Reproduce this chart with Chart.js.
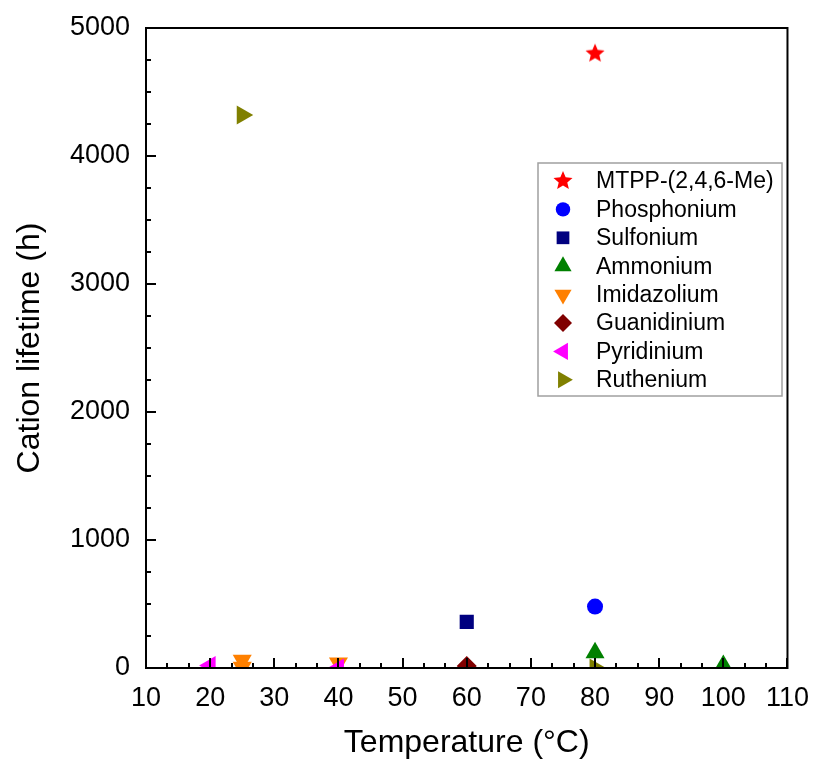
<!DOCTYPE html>
<html>
<head>
<meta charset="utf-8">
<script src="https://cdn.jsdelivr.net/npm/chart.js@4.4.1/dist/chart.umd.min.js"></script>
<style>
  html, body { margin: 0; padding: 0; background: #fff; }
  #wrap { position: relative; width: 815px; height: 759px; }
</style>
</head>
<body>
<div id="wrap"><canvas id="lifetimeChart" width="815" height="759"></canvas></div>
<script>
// ===================== Data =====================
const xTicks = [10, 20, 30, 40, 50, 60, 70, 80, 90, 100, 110];
const yTicks = [0, 1000, 2000, 3000, 4000, 5000];

const seriesNames = ['MTPP-(2,4,6-Me)', 'Phosphonium', 'Sulfonium', 'Ammonium',
  'Imidazolium', 'Guanidinium', 'Pyridinium', 'Ruthenium'];

const mtppTemp = [80];        const mtppLife = [4800];
const phosTemp = [80];        const phosLife = [480];
const sulfTemp = [60];        const sulfLife = [360];
const ammTemp = [80, 100];    const ammLife = [120, 20];
const imidTemp = [25, 25, 40]; const imidLife = [60, 5, 40];
const guanTemp = [60];        const guanLife = [15];
const pyrTemp = [20, 40];     const pyrLife = [20, 0];
const ruthTemp = [25, 80];    const ruthLife = [4320, 0];

// ===================== Styles =====================
const FONT = '"Liberation Sans", Arial, sans-serif';
const colors = ['#ff0000', '#0000ff', '#000080', '#008000', '#ff8000', '#800000', '#ff00ff', '#808000'];

function makeStar(color, r) {
  const c = document.createElement('canvas');
  const s = Math.ceil(r * 2 + 2);
  c.width = s; c.height = s;
  const g = c.getContext('2d');
  g.fillStyle = color;
  g.beginPath();
  for (let i = 0; i < 10; i++) {
    const rad = i % 2 ? r * 0.45 : r;
    const a = -Math.PI / 2 + i * Math.PI / 5;
    g.lineTo(s / 2 + rad * Math.cos(a), s / 2 + rad * Math.sin(a));
  }
  g.closePath();
  g.fill();
  return c;
}

const markers = [
  { pointStyle: makeStar(colors[0], 10), radius: 10, rotation: 0 },
  { pointStyle: 'circle', radius: 8, rotation: 0 },
  { pointStyle: 'rect', radius: 10, rotation: 0 },
  { pointStyle: 'triangle', radius: 11, rotation: 0 },
  { pointStyle: 'triangle', radius: 11, rotation: 180 },
  { pointStyle: 'rectRot', radius: 10, rotation: 0 },
  { pointStyle: 'triangle', radius: 11, rotation: 270 },
  { pointStyle: 'triangle', radius: 11, rotation: 90 }
];

function toPoints(xs, ys) {
  return xs.map(function (x, i) { return { x: x, y: ys[i] }; });
}

const seriesData = [
  toPoints(mtppTemp, mtppLife),
  toPoints(phosTemp, phosLife),
  toPoints(sulfTemp, sulfLife),
  toPoints(ammTemp, ammLife),
  toPoints(imidTemp, imidLife),
  toPoints(guanTemp, guanLife),
  toPoints(pyrTemp, pyrLife),
  toPoints(ruthTemp, ruthLife)
];

const datasets = seriesNames.map(function (name, i) {
  return {
    label: name,
    data: seriesData[i],
    backgroundColor: colors[i],
    borderColor: colors[i],
    borderWidth: 0,
    pointStyle: markers[i].pointStyle,
    pointRadius: markers[i].radius,
    pointHoverRadius: markers[i].radius,
    pointRotation: markers[i].rotation,
    clip: 0,
    order: name === 'Pyridinium' ? -1 : 0
  };
});

// ===================== Frame + inward ticks =====================
const axisFrame = {
  id: 'axisFrame',
  afterDatasetsDraw(chart) {
    const ctx = chart.ctx;
    const a = chart.chartArea;
    const xs = chart.scales.x;
    const ys = chart.scales.y;
    ctx.save();
    ctx.strokeStyle = '#000';
    ctx.lineWidth = 2;
    ctx.strokeRect(a.left, a.top, a.right - a.left, a.bottom - a.top);

    ctx.beginPath();
    const xStep = (xTicks[1] - xTicks[0]) / 3;
    for (let k = 0; k <= (xTicks.length - 1) * 3; k++) {
      const px = Math.round(xs.getPixelForValue(xTicks[0] + k * xStep));
      const len = k % 3 === 0 ? 10 : 5;
      ctx.moveTo(px, a.bottom);
      ctx.lineTo(px, a.bottom - len);
    }
    const yStep = (yTicks[1] - yTicks[0]) / 4;
    for (let k = 0; k <= (yTicks.length - 1) * 4; k++) {
      const py = Math.round(ys.getPixelForValue(yTicks[0] + k * yStep));
      const len = k % 4 === 0 ? 10 : 5;
      ctx.moveTo(a.left, py);
      ctx.lineTo(a.left + len, py);
    }
    ctx.stroke();
    ctx.restore();
  }
};

// ===================== Legend box inside plot =====================
const innerLegend = {
  id: 'innerLegend',
  afterDraw(chart) {
    const ctx = chart.ctx;
    const box = { left: 538, top: 163, right: 782, bottom: 396 };
    ctx.save();
    ctx.strokeStyle = '#a0a0a0';
    ctx.lineWidth = 1.5;
    ctx.strokeRect(box.left, box.top, box.right - box.left, box.bottom - box.top);
    ctx.font = '23px ' + FONT;
    ctx.textBaseline = 'middle';
    seriesNames.forEach(function (name, i) {
      const y = 181 + i * 28.4;
      ctx.fillStyle = colors[i];
      Chart.helpers.drawPoint(ctx, {
        pointStyle: markers[i].pointStyle,
        radius: markers[i].radius * 0.9,
        rotation: markers[i].rotation,
        borderWidth: 0
      }, 563, y);
      ctx.fillStyle = '#000';
      ctx.fillText(name, 596, y + 1);
    });
    ctx.restore();
  }
};

// ===================== Chart =====================
new Chart(document.getElementById('lifetimeChart'), {
  type: 'scatter',
  data: { datasets: datasets },
  options: {
    responsive: false,
    animation: false,
    layout: { padding: { top: 28, right: 27, left: 0, bottom: 0 } },
    plugins: {
      legend: { display: false },
      tooltip: { enabled: false }
    },
    scales: {
      x: {
        type: 'linear',
        min: xTicks[0],
        max: xTicks[xTicks.length - 1],
        afterBuildTicks: function (scale) {
          scale.ticks = xTicks.map(function (v) { return { value: v }; });
        },
        afterFit: function (scale) { scale.height = 91; },
        grid: { display: false },
        border: { display: false },
        ticks: {
          color: '#000', padding: 6, maxRotation: 0,
          font: { family: FONT, size: 27 },
          callback: function (v) { return String(v); }
        },
        title: {
          display: true,
          text: 'Temperature (°C)',
          color: '#000',
          padding: { top: 0, bottom: 0 },
          font: { family: FONT, size: 32, lineHeight: 1 }
        }
      },
      y: {
        type: 'linear',
        min: yTicks[0],
        max: yTicks[yTicks.length - 1],
        afterBuildTicks: function (scale) {
          scale.ticks = yTicks.map(function (v) { return { value: v }; });
        },
        afterFit: function (scale) { scale.width = 146; },
        grid: { display: false },
        border: { display: false },
        ticks: {
          color: '#000', padding: 8,
          font: { family: FONT, size: 27 },
          callback: function (v) { return String(v); }
        },
        title: {
          display: true,
          text: 'Cation lifetime (h)',
          color: '#000',
          padding: { top: 11, bottom: 0 },
          font: { family: FONT, size: 32, lineHeight: 1.2 }
        }
      }
    }
  },
  plugins: [axisFrame, innerLegend]
});
</script>
</body>
</html>
